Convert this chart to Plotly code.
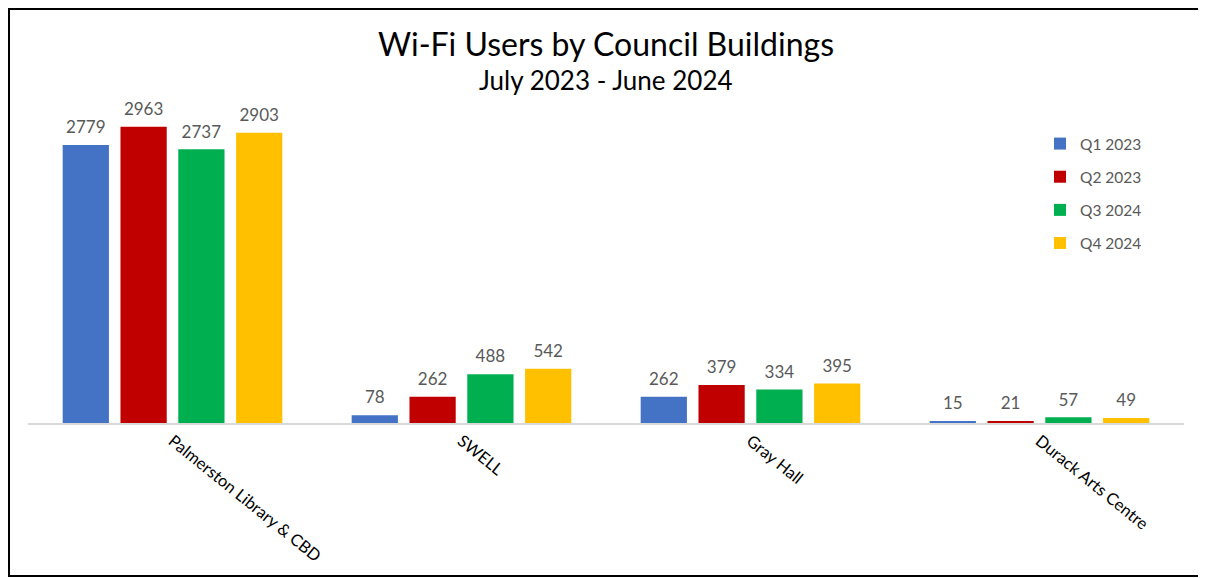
import plotly.graph_objects as go

categories = ["Palmerston Library & CBD", "SWELL", "Gray Hall", "Durack Arts Centre"]
series_names = ["Q1 2023", "Q2 2023", "Q3 2024", "Q4 2024"]
q1 = [2779, 78, 262, 15]
q2 = [2963, 262, 379, 21]
q3 = [2737, 488, 334, 57]
q4 = [2903, 542, 395, 49]
colors = ["#4472C4", "#C00000", "#00B050", "#FFC000"]

FONT = "Lato, Open Sans, sans-serif"
OFF = 8  # page body margin offset
W, H = 1206 - OFF, 578 - OFF
L, R, T = 28 - OFF, W - (1184 - OFF), 73 - OFF
B = H - (423 - OFF)
pw, ph = W - L - R, H - T - B

def px(x):
    # page x -> paper
    return (x - OFF - L) / pw

def py(y):
    # page y -> paper
    return (H - B - (y - OFF)) / ph

fig = go.Figure()
for name, vals, col in zip(series_names, [q1, q2, q3, q4], colors):
    fig.add_trace(go.Bar(
        x=categories, y=vals, name=name, legendgroup=name,
        marker=dict(color=col, line=dict(width=0)),
        text=[f"<span style='font-size:17px'>{v}</span><br> " for v in vals],
        textposition="outside",
        textfont=dict(family=FONT, size=6, color="#595959"),
        cliponaxis=False,
    ))

fig.update_layout(
    width=W, height=H,
    margin=dict(l=L, r=R, t=T, b=B),
    paper_bgcolor="white", plot_bgcolor="white",
    barmode="group", bargap=0.2, bargroupgap=0.2,
    showlegend=True,
    legend=dict(x=px(1040), y=py(127), xanchor="left", yanchor="top",
                font=dict(family=FONT, size=15.5, color="#595959"),
                tracegroupgap=10, bgcolor="rgba(0,0,0,0)"),
    xaxis=dict(showline=True, linecolor="#D9D9D9", linewidth=2,
               ticks="", tickangle=39,
               tickfont=dict(family=FONT, size=16.5, color="#000000"),
               showgrid=False, automargin=False),
    yaxis=dict(range=[0, 3500], visible=False, showgrid=False, zeroline=False),
    annotations=[
        dict(text="Wi-Fi Users by Council Buildings", x=0.5, xref="paper",
             y=py(44), yref="paper", showarrow=False, xanchor="center", yanchor="middle",
             font=dict(family=FONT, size=32, color="#000000")),
        dict(text="July 2023 - June 2024", x=0.5, xref="paper",
             y=py(80), yref="paper", showarrow=False, xanchor="center", yanchor="middle",
             font=dict(family=FONT, size=26, color="#000000")),
    ],
    shapes=[
        dict(type="rect", xref="paper", yref="paper",
             x0=px(9), x1=px(1215), y0=py(576), y1=py(9),
             line=dict(color="black", width=2), fillcolor="rgba(0,0,0,0)"),
    ],
)

fig.write_html("out.html")
